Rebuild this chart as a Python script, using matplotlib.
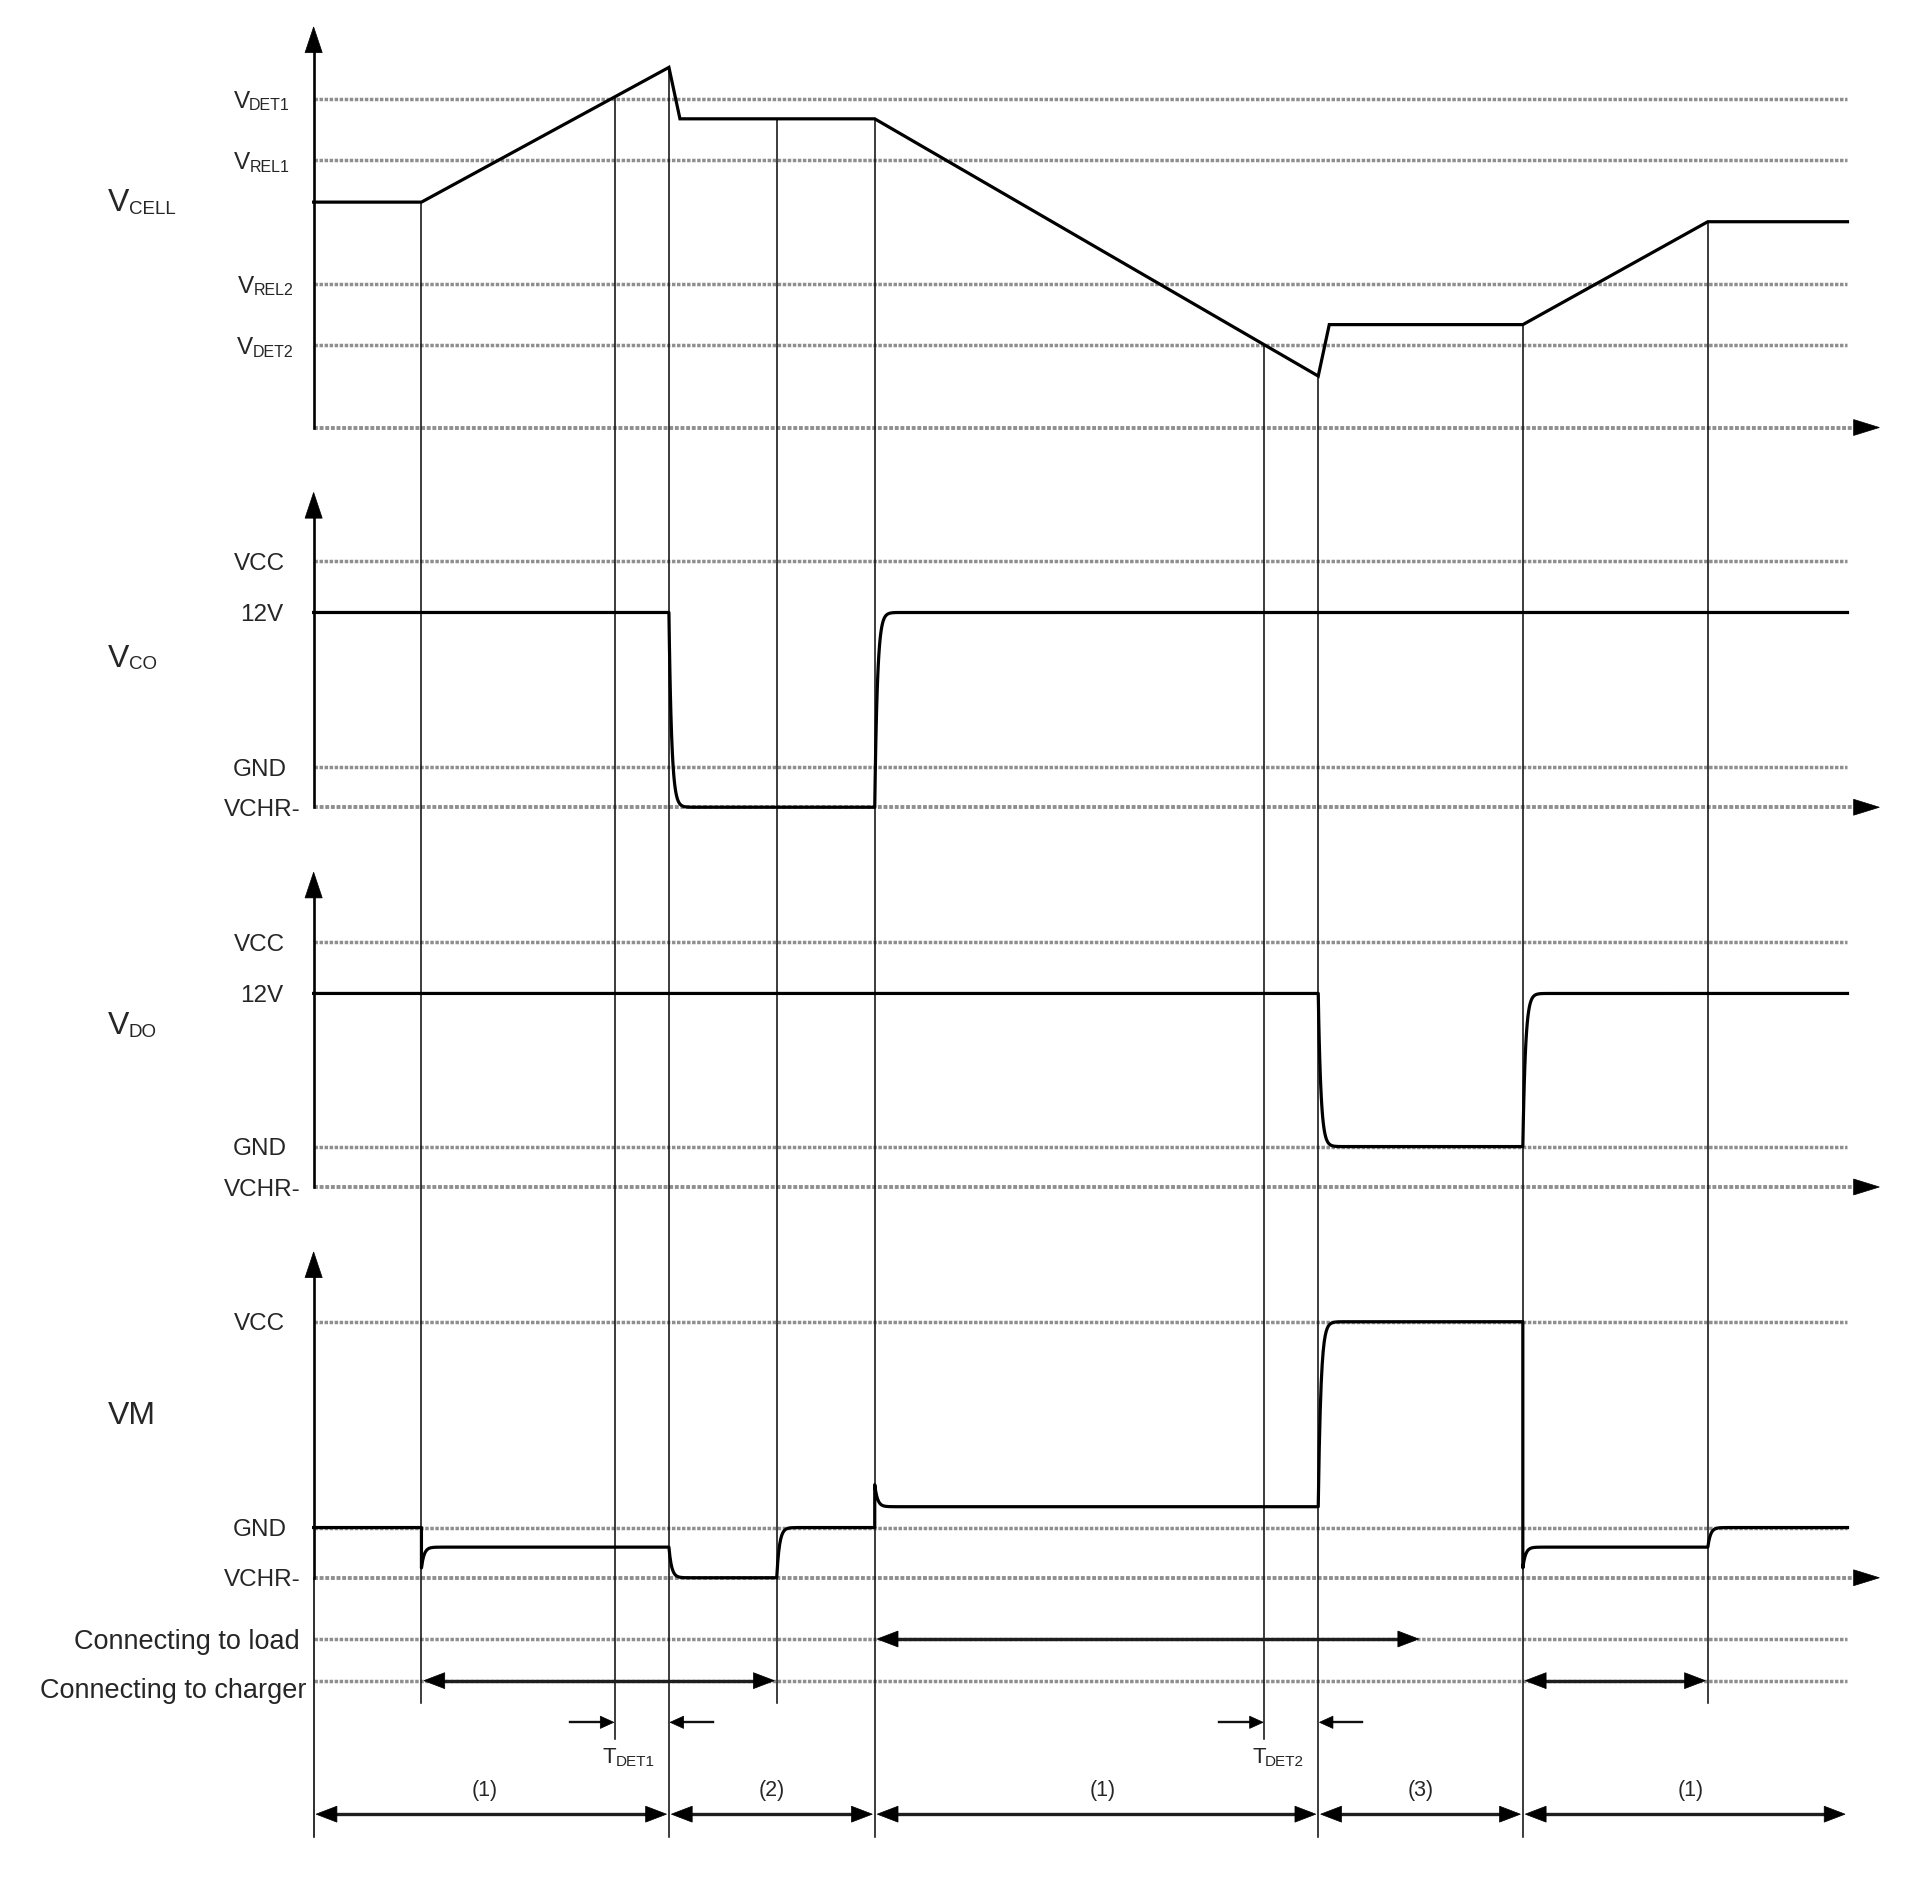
import numpy as np
import matplotlib
matplotlib.use("Agg")
import matplotlib.pyplot as plt
from matplotlib.patches import Polygon

plt.rcParams['font.family'] = ['Liberation Sans', 'DejaVu Sans']

# ---------------- data (diagram units: time along x, level along y) ----------------
T_AXIS = 256
T_END = 1508
T_ARROW = 1534

# time events
t1, tdet1, t2, t3, t4, tdet2, t5, t6, t7 = 344, 502, 546, 634, 714, 1032, 1076, 1243, 1394

# VCELL panel levels
VDET1, VREL1, VREL2, VDET2, AX1 = 81, 131, 232, 282, 349
vcell_t = [T_AXIS, t1, t2, 555, t4, t5, 1085, t6, t7, T_END]
vcell_v = [165, 165, 55, 97, 97, 307, 265, 265, 181, 181]

# VCO panel levels
VCC2, V12_2, GND2, AX2 = 458, 500, 626, 659
vco_start = V12_2
vco_events = [(t2, 'exp', AX2), (t4, 'exp', V12_2)]

# VDO panel levels
VCC3, V12_3, GND3, AX3 = 769, 811, 936, 969
vdo_start = V12_3
vdo_events = [(t5, 'exp', GND3), (t6, 'exp', V12_3)]

# VM panel levels
VCC4, GND4, AX4 = 1079, 1247, 1288
vm_start = GND4
vm_events = [(t1, 'spike', 1280, 1263), (t2, 'exp', AX4), (t3, 'exp', GND4),
             (t4, 'spike', 1212, 1230), (t5, 'exp', VCC4),
             (t6, 'spike', 1280, 1263), (t7, 'exp', GND4)]

LOAD_Y, CHARGER_Y = 1338, 1372
load_spans = [(t4, 1160)]
charger_spans = [(t1, t3), (t6, t7)]

# dotted reference lines
ref_lines = [VDET1, VREL1, VREL2, VDET2, VCC2, GND2, VCC3, GND3, VCC4, GND4, LOAD_Y, CHARGER_Y]
axis_lines = [AX1, AX2, AX3, AX4]
yaxis_spans = [(22, AX1), (402, AX2), (712, AX3), (1022, AX4)]

# vertical event lines: (time, bottom)
event_lines = [(t1, 1390), (tdet1, 1420), (t2, 1500), (t3, 1390), (t4, 1500),
               (tdet2, 1420), (t5, 1500), (t6, 1500), (t7, 1390)]

# phase row
PHASE_Y = 1481
phase_bounds = [T_AXIS, t2, t4, t5, t6, T_END]
phase_labels = ['(1)', '(2)', '(1)', '(3)', '(1)']
phase_label_x = [396, 630, 900, 1160, 1380]

TDET_Y = 1406

# level labels (text, right x, centre y)
plain_labels = [("VCC", 233, VCC2), ("12V", 231, V12_2), ("GND", 234, GND2), ("VCHR-", 245, AX2),
                ("VCC", 233, VCC3), ("12V", 231, V12_3), ("GND", 234, GND3), ("VCHR-", 245, AX3),
                ("VCC", 233, VCC4), ("GND", 234, GND4), ("VCHR-", 245, AX4)]
sub_labels = [("V", "DET1", 237, VDET1), ("V", "REL1", 237, VREL1),
              ("V", "REL2", 240, VREL2), ("V", "DET2", 240, VDET2)]
signal_labels = [("V", "CELL", 88, 163), ("V", "CO", 88, 535), ("V", "DO", 88, 835), ("VM", "", 88, 1153)]
conn_labels = [("Connecting to load", 245, LOAD_Y), ("Connecting to charger", 250, 1378)]

# ---------------- figure ----------------
W, H = 1921, 1884
UW, UH = 1568, 1538
PX = W / UW
fig = plt.figure(figsize=(W / 100, H / 100), dpi=100)
ax = fig.add_axes([0, 0, 1, 1])
ax.set_xlim(0, UW)
ax.set_ylim(UH, 0)
ax.axis('off')
renderer = fig.canvas.get_renderer()

SIG_LW = 2.3
V_LW = 1.15
REF_COLOR = '#8f8f8f'
TXT = '#262626'


def head(xtip, y, direction, length=17, half=6.5, color='black', vertical=False):
    if not vertical:
        pts = [(xtip, y), (xtip - direction * length, y - half), (xtip - direction * length, y + half)]
    else:
        pts = [(y, xtip), (y - half, xtip - direction * length), (y + half, xtip - direction * length)]
    ax.add_patch(Polygon(pts, closed=True, facecolor=color, edgecolor=color, lw=0.5, zorder=6))


def double_arrow(xa, xb, y, inset=2, length=17, half=6.5):
    a, b = xa + inset, xb - inset
    ax.plot([a + length * 0.5, b - length * 0.5], [y, y], color='#1e1e1e', lw=2.4, zorder=5,
            solid_capstyle='butt')
    head(a, y, -1, length, half)
    head(b, y, 1, length, half)


def build_signal(start, events, tau=2.2):
    ts, vs = [T_AXIS], [start]
    cur = start
    tt = np.linspace(0, 9 * tau, 50)
    for ev in events:
        t0, kind = ev[0], ev[1]
        ts.append(t0)
        vs.append(cur)
        if kind == 'exp':
            target = ev[2]
            ts += list(t0 + tt)
            vs += list(target + (cur - target) * np.exp(-tt / tau))
        else:
            peak, target = ev[2], ev[3]
            ts += list(t0 + tt)
            vs += list(target + (peak - target) * np.exp(-tt / tau))
        cur = target
    ts.append(T_END)
    vs.append(cur)
    return np.array(ts), np.array(vs)


def measure(s, size):
    t = ax.text(0, 0, s, fontsize=size)
    w = t.get_window_extent(renderer).width / PX
    t.remove()
    return w


def cap_h(size):
    return 0.716 * size * 100 / 72 / PX


def sub_text(x, y, main, sub, s_main, s_sub, align='right', drop=2.0):
    base = y + cap_h(s_main) / 2
    wm = measure(main, s_main)
    ws = measure(sub, s_sub) if sub else 0
    x0 = x - (wm + ws) if align == 'right' else x
    ax.text(x0, base, main, fontsize=s_main, ha='left', va='baseline', color=TXT)
    if sub:
        ax.text(x0 + wm - 0.5, base + drop, sub, fontsize=s_sub, ha='left', va='baseline', color=TXT)


# dotted reference lines
for y in ref_lines:
    ax.plot([T_AXIS, T_END], [y, y], color=REF_COLOR, lw=2.5, ls=(0, (1.0, 0.45)), zorder=1)
for y in axis_lines:
    ax.plot([T_AXIS, T_END + 4], [y, y], color=REF_COLOR, lw=2.8, ls=(0, (1.0, 0.45)), zorder=1)
    head(T_ARROW, y, 1, length=21, half=6.5)

# y axes
for top, bot in yaxis_spans:
    ax.plot([T_AXIS, T_AXIS], [bot, top + 18], color='black', lw=1.9, zorder=4)
    head(top, T_AXIS, -1, length=21, half=7, vertical=True)
ax.plot([T_AXIS, T_AXIS], [AX4, 1500], color='black', lw=V_LW, zorder=3)

# vertical event lines
for t, bot in event_lines:
    top = np.interp(t, vcell_t, vcell_v)
    ax.plot([t, t], [top, bot], color='#111111', lw=V_LW, zorder=3)

# signals
ax.plot(vcell_t, vcell_v, color='black', lw=SIG_LW, zorder=5, solid_joinstyle='miter')
for start, events in [(vco_start, vco_events), (vdo_start, vdo_events), (vm_start, vm_events)]:
    ts, vs = build_signal(start, events)
    ax.plot(ts, vs, color='black', lw=SIG_LW, zorder=5)

# connection arrows
for a, b in load_spans:
    double_arrow(a, b, LOAD_Y)
for a, b in charger_spans:
    double_arrow(a, b, CHARGER_Y)

# phase arrows
for i in range(len(phase_labels)):
    a, b = phase_bounds[i], phase_bounds[i + 1]
    double_arrow(a, b, PHASE_Y)
    ax.text(phase_label_x[i], 1460 + cap_h(15.5) / 2, phase_labels[i], fontsize=15.5, ha='center',
            va='baseline', color=TXT)

# TDET arrows
for tl, tr in [(tdet1, t2), (tdet2, t5)]:
    ax.plot([tl - 37, tl - 10], [TDET_Y, TDET_Y], color='#111111', lw=1.7, zorder=5)
    head(tl - 1, TDET_Y, 1, length=11, half=5)
    ax.plot([tr + 10, tr + 36], [TDET_Y, TDET_Y], color='#111111', lw=1.7, zorder=5)
    head(tr + 1, TDET_Y, -1, length=11, half=5)
    sub_text(tl - 10, 1433, "T", "DET" + ("1" if tl == tdet1 else "2"), 16, 11, align='left', drop=2.5)

# labels
for s, x, y in plain_labels:
    ax.text(x, y + cap_h(17.5) / 2, s, fontsize=17.5, ha='right', va='baseline', color=TXT)
for m, s, x, y in sub_labels:
    sub_text(x, y, m, s, 17.5, 11.5, align='right', drop=2.0)
for m, s, x, y in signal_labels:
    sub_text(x, y, m, s, 23, 13.5, align='left', drop=2.0)
for s, x, y in conn_labels:
    ax.text(x, y + cap_h(19.5) / 2, s, fontsize=19.5, ha='right', va='baseline', color=TXT)

fig.savefig("out.png", dpi=100, facecolor='white')
